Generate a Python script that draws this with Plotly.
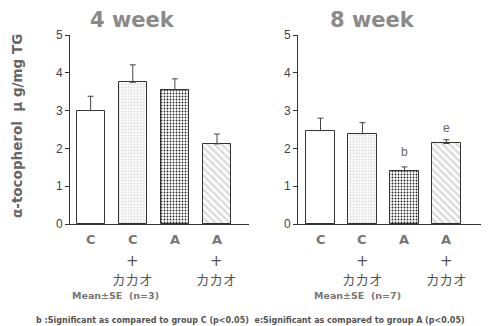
import plotly.graph_objects as go

# page is rendered with an 8px body margin; lay out in screen pixels and offset
OFF = 8
W, H = 489 - OFF, 326 - OFF

# ---- data ----
groups = ["C", "C+カカオ", "A", "A+カカオ"]
top_labels = ["C", "C", "A", "A"]
has_cacao = [False, True, False, True]
week4_mean = [3.0, 3.75, 3.55, 2.12]
week4_se = [0.38, 0.46, 0.29, 0.26]
week8_mean = [2.47, 2.39, 1.41, 2.13]
week8_se = [0.33, 0.29, 0.10, 0.10]
week8_sig = ["", "", "b", "e"]
yticks = [0, 1, 2, 3, 4, 5]
panel_titles = ["4 week", "8 week"]
n_labels = ["Mean±SE  (n=3)", "Mean±SE  (n=7)"]
footnote = "b :Significant as compared to group C (p<0.05)  e:Significant as compared to group A (p<0.05)"

# ---- styling ----
pos = list(range(len(groups)))
pat_shape = ["", ".", ".", "\\"]
pat_fg = ["#ffffff", "#666666", "#6a6a6a", "#444444"]
pat_bg = ["#ffffff", "#e2e2e2", "#262626", "#dcdcdc"]
pat_size = [4, 3, 3, 5]
pat_sol = [0.2, 0.45, 0.3, 0.5]

def px(x):
    return (x - OFF) / W

def py(y):
    return 1 - (y - OFF) / H

fig = go.Figure()

for i, (mean, se) in enumerate([(week4_mean, week4_se), (week8_mean, week8_se)]):
    xa = "x" if i == 0 else "x2"
    ya = "y" if i == 0 else "y2"
    fig.add_trace(go.Bar(
        x=pos, y=mean, xaxis=xa, yaxis=ya, width=0.67,
        marker=dict(
            color=pat_bg,
            line=dict(color="#333333", width=1),
            pattern=dict(shape=pat_shape, fgcolor=pat_fg, bgcolor=pat_bg,
                         size=pat_size, solidity=pat_sol, fillmode="replace"),
        ),
        error_y=dict(type="data", symmetric=False, array=se,
                     arrayminus=[0] * len(se), color="#444444",
                     thickness=1, width=3),
        showlegend=False, hoverinfo="skip",
    ))

ydom = [py(224), py(35)]
axis_common = dict(showline=True, linecolor="#333333", linewidth=1,
                   showgrid=False, zeroline=False, automargin=False)
tickfont = dict(family="Liberation Sans", size=12, color="#444444")
fig.update_layout(
    width=W, height=H,
    margin=dict(l=0, r=0, t=0, b=0),
    paper_bgcolor="white", plot_bgcolor="white",
    bargap=0,
    xaxis=dict(domain=[px(70), px(249)], range=[-0.49, 3.76],
               showticklabels=False, ticks="", **axis_common),
    yaxis=dict(domain=ydom, range=[0, 5], tickvals=yticks, ticks="outside",
               ticklen=4, tickcolor="#333333", tickfont=tickfont, **axis_common),
    xaxis2=dict(domain=[px(298), px(488)], range=[-0.536, 3.99],
                showticklabels=False, ticks="", **axis_common),
    yaxis2=dict(domain=ydom, range=[0, 5], tickvals=yticks, ticks="outside",
                ticklen=4, tickcolor="#333333", anchor="x2", tickfont=tickfont,
                **axis_common),
)

ann = []

def add(text, x, y, xref="paper", yref="paper", size=12, color="#555555",
        family="DejaVu Sans", angle=0):
    ann.append(dict(text=text, x=x, y=y, xref=xref, yref=yref, showarrow=False,
                    xanchor="center", yanchor="middle", textangle=angle,
                    font=dict(family=family, size=size, color=color)))

title_x = [132, 372]
for i in range(2):
    add(f"<b>{panel_titles[i]}</b>", px(title_x[i]), py(20), size=21, color="#8a8a8a")
    xa = "x" if i == 0 else "x2"
    for j, p in enumerate(pos):
        add(f"<b>{top_labels[j]}</b>", p, py(240), xref=xa, size=13, color="#777777")
        if has_cacao[j]:
            add("+", p, py(261), xref=xa, size=15, color="#555555")
            add("カカオ", p, py(279), xref=xa, size=13.5, color="#555555",
                family="Noto Sans CJK JP")
n_x = [115, 357]
for i in range(2):
    add(f"<b>{n_labels[i]}</b>", px(n_x[i]), py(295), size=9.5, color="#777777")
sig_y = [0, 0, 1.9, 2.55]
for j, p in enumerate(pos):
    if week8_sig[j]:
        add(week8_sig[j], p, sig_y[j], xref="x2", yref="y2", size=12,
            color="#666666", family="Liberation Sans")
add("<b>α-tocopherol  μ g/mg TG</b>", px(17), py(126), size=13.5, color="#666666",
    angle=-90)
add(f"<b>{footnote}</b>", px(250), py(320), size=8, color="#555555")
fig.update_layout(annotations=ann)

fig.write_html("out.html")
